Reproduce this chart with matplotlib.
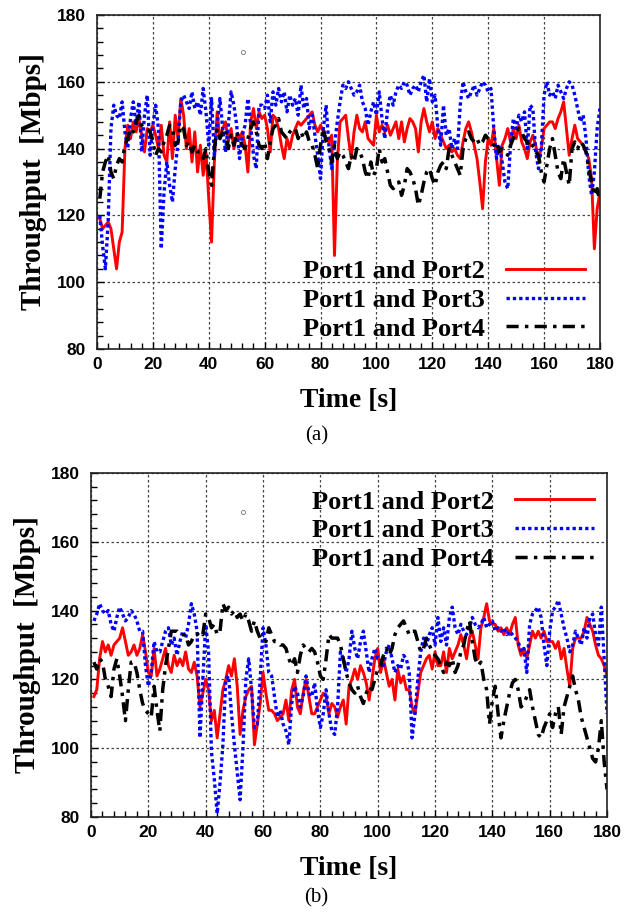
import numpy as np
import matplotlib
matplotlib.use("Agg")
import matplotlib.pyplot as plt
from matplotlib.ticker import MultipleLocator

# sampling instants, 1 s apart
time_s = np.arange(1, 181)

# (a) throughput [Mbps]
a_p12 = [119, 116, 117, 118, 116, 110, 104, 112, 115, 140,
         147, 143, 148, 145, 149, 144, 139, 146, 145, 147,
         144, 140, 147, 138, 136, 148, 137, 150, 143, 155,
         150, 140, 146, 136, 145, 133, 141, 132, 139, 125,
         112, 136, 151, 143, 146, 148, 142, 146, 140, 144,
         143, 145, 141, 133, 148, 152, 146, 151, 149, 150,
         146, 139, 150, 149, 146, 141, 137, 143, 140, 144,
         146, 148, 147, 148, 149, 150, 151, 147, 145, 147,
         145, 143, 142, 144, 108, 136, 148, 149, 150, 143,
         137, 145, 150, 146, 145, 148, 143, 142, 141, 150,
         145, 147, 145, 147, 144, 146, 148, 143, 148, 142,
         146, 149, 148, 146, 139, 148, 152, 148, 145, 148,
         143, 146, 144, 142, 140, 141, 139, 140, 138, 137,
         142, 146, 148, 145, 141, 137, 130, 122, 136, 143,
         141, 146, 137, 129, 141, 143, 146, 142, 146, 143,
         147, 142, 140, 137, 142, 144, 141, 137, 140, 146,
         147, 148, 148, 146, 149, 151, 154, 146, 138, 143,
         147, 143, 142, 141, 139, 137, 131, 110, 122, 127]

a_p13 = [120, 111, 104, 118, 146, 153, 150, 149, 154, 145,
         140, 149, 154, 147, 154, 139, 150, 156, 138, 147,
         153, 146, 110, 127, 136, 129, 124, 134, 142, 154,
         156, 154, 152, 157, 152, 154, 150, 158, 151, 141,
         155, 138, 147, 155, 146, 139, 147, 157, 153, 147,
         137, 144, 147, 155, 147, 138, 134, 153, 153, 152,
         156, 148, 157, 153, 158, 154, 157, 151, 156, 153,
         155, 150, 159, 152, 155, 146, 150, 144, 138, 131,
         146, 153, 141, 134, 141, 148, 154, 159, 158, 160,
         158, 156, 157, 159, 154, 152, 147, 151, 154, 150,
         157, 149, 143, 152, 156, 153, 157, 159, 158, 160,
         159, 156, 158, 159, 157, 160, 162, 154, 161, 154,
         156, 146, 141, 153, 144, 146, 140, 143, 140, 153,
         160, 157, 155, 157, 159, 156, 158, 160, 159, 157,
         158, 146, 137, 141, 136, 130, 128, 141, 149, 146,
         150, 148, 151, 140, 153, 152, 139, 134, 140, 156,
         160, 156, 157, 155, 159, 157, 155, 158, 160, 159,
         156, 152, 148, 150, 143, 132, 126, 133, 146, 152]

a_p14 = [125, 133, 136, 138, 133, 131, 135, 137, 136, 141,
         143, 146, 145, 148, 150, 147, 146, 146, 145, 142,
         138, 140, 139, 142, 144, 147, 146, 141, 142, 147,
         146, 141, 142, 139, 141, 139, 139, 137, 140, 133,
         129, 140, 146, 143, 145, 146, 140, 144, 141, 145,
         143, 141, 140, 143, 146, 148, 145, 141, 140, 142,
         137, 142, 146, 147, 149, 145, 144, 143, 145, 146,
         146, 143, 145, 143, 145, 142, 141, 138, 134, 141,
         146, 142, 140, 136, 141, 137, 139, 138, 136, 134,
         138, 136, 140, 139, 137, 133, 131, 136, 132, 134,
         140, 136, 137, 133, 129, 128, 129, 130, 126, 129,
         134, 133, 131, 128, 123, 126, 130, 133, 134, 131,
         129, 133, 135, 136, 134, 140, 138, 136, 134, 132,
         140, 143, 145, 143, 142, 143, 141, 142, 144, 143,
         142, 141, 142, 139, 140, 139, 138, 141, 143, 145,
         146, 145, 143, 142, 140, 141, 139, 138, 133, 130,
         135, 140, 143, 138, 133, 131, 137, 133, 129, 140,
         142, 140, 142, 141, 139, 134, 130, 126, 128, 124]

# (b) throughput [Mbps]
b_p12 = [115, 117, 126, 131, 128, 130, 127, 130, 131, 132,
         135, 131, 127, 128, 130, 127, 129, 133, 128, 122,
         121, 129, 121, 123, 126, 129, 124, 122, 127, 124,
         126, 124, 128, 123, 122, 125, 121, 112, 116, 120,
         117, 108, 111, 103, 110, 117, 120, 124, 121, 126,
         118, 104, 111, 115, 117, 118, 101, 107, 113, 122,
         116, 111, 111, 110, 108, 109, 110, 114, 108, 117,
         120, 112, 110, 116, 120, 115, 110, 110, 112, 114,
         116, 115, 110, 113, 112, 109, 112, 114, 107, 118,
         120, 123, 120, 124, 122, 119, 114, 120, 126, 129,
         122, 126, 122, 118, 120, 114, 123, 119, 121, 117,
         117, 112, 110, 116, 122, 124, 126, 127, 123, 128,
         124, 124, 128, 122, 129, 126, 128, 130, 133, 130,
         126, 132, 134, 130, 126, 135, 138, 142, 137, 136,
         136, 134, 135, 133, 135, 133, 136, 138, 130, 127,
         129, 126, 130, 134, 132, 134, 132, 134, 131, 131,
         131, 129, 131, 126, 129, 123, 118, 129, 132, 132,
         132, 134, 138, 136, 134, 130, 127, 126, 124, 121]

b_p13 = [137, 139, 142, 140, 139, 140, 136, 134, 138, 141,
         139, 137, 138, 140, 139, 137, 134, 134, 124, 118,
         122, 131, 128, 128, 131, 134, 135, 130, 132, 127,
         131, 134, 132, 136, 142, 139, 134, 103, 120, 136,
         128, 99, 91, 81, 90, 101, 120, 121, 110, 101,
         93, 85, 100, 120, 126, 117, 106, 107, 120, 135,
         130, 122, 121, 115, 109, 111, 107, 105, 101, 113,
         118, 116, 112, 115, 121, 116, 115, 119, 111, 106,
         110, 117, 110, 105, 104, 112, 128, 126, 122, 126,
         134, 129, 126, 131, 134, 128, 122, 126, 129, 126,
         126, 124, 128, 130, 126, 122, 124, 123, 127, 126,
         122, 103, 110, 120, 128, 132, 130, 133, 135, 130,
         138, 131, 135, 130, 138, 141, 135, 133, 136, 134,
         133, 135, 138, 136, 135, 136, 138, 135, 136, 137,
         134, 135, 134, 135, 133, 134, 133, 132, 131, 128,
         129, 122, 136, 139, 140, 141, 138, 130, 124, 134,
         140, 141, 143, 139, 135, 132, 128, 130, 134, 132,
         130, 135, 132, 138, 139, 133, 130, 141, 126, 110]

b_p14 = [125, 123, 126, 125, 120, 118, 115, 123, 126, 121,
         115, 108, 117, 125, 125, 122, 117, 113, 111, 110,
         109, 118, 111, 105, 117, 124, 129, 134, 134, 134,
         133, 133, 133, 130, 131, 133, 133, 134, 133, 139,
         138, 135, 136, 133, 134, 142, 140, 141, 139, 140,
         138, 139, 137, 139, 137, 134, 137, 134, 132, 131,
         131, 135, 133, 131, 131, 130, 130, 129, 126, 124,
         126, 122, 127, 130, 129, 128, 129, 128, 125, 121,
         120, 126, 133, 132, 132, 132, 130, 126, 122, 119,
         117, 116, 118, 115, 113, 116, 118, 117, 120, 123,
         124, 127, 129, 127, 129, 133, 135, 136, 137, 135,
         133, 134, 134, 131, 128, 129, 132, 130, 128, 127,
         126, 124, 122, 125, 124, 126, 122, 124, 128, 130,
         134, 137, 131, 126, 124, 125, 120, 117, 107, 114,
         118, 110, 103, 108, 112, 116, 119, 120, 117, 112,
         113, 115, 117, 112, 108, 104, 103, 106, 108, 110,
         106, 110, 112, 104, 112, 115, 118, 121, 117, 114,
         109, 106, 103, 100, 97, 96, 100, 108, 96, 88]

series_labels = ["Port1 and Port2", "Port1 and Port3", "Port1 and Port4"]
x_ticks = [0, 20, 40, 60, 80, 100, 120, 140, 160, 180]
y_ticks = [80, 100, 120, 140, 160, 180]

# small stray circle visible in both panels
stray_a = ([52.3], [168.9])
stray_b = ([53.0], [168.7])

serif = "Liberation Serif"
sans = "Liberation Sans"


def draw_panel(ax, p12, p13, p14, stray):
    ax.plot(time_s, p12, color="#ff0000", lw=2.1, solid_joinstyle="round")
    ax.plot(time_s, p13, color="#0000ff", lw=2.4, dashes=(1.0, 0.9))
    ax.plot(time_s, p14, color="black", lw=2.5, dashes=(3.5, 1.8, 1.0, 1.8))
    ax.plot(stray[0], stray[1], "o", ms=3, mfc="none", mec="#777777", mew=0.6)

    ax.set_xlim(0, 180)
    ax.set_ylim(80, 180)
    ax.set_xticks(x_ticks)
    ax.set_yticks(y_ticks)
    ax.xaxis.set_minor_locator(MultipleLocator(4))
    ax.yaxis.set_minor_locator(MultipleLocator(4))
    ax.tick_params(which="both", direction="in", top=False, right=False)
    ax.tick_params(which="major", length=5, width=1)
    ax.tick_params(which="minor", length=4, width=1)
    ax.tick_params(axis="x", pad=6)
    ax.tick_params(axis="y", pad=8)
    for lab in ax.get_xticklabels() + ax.get_yticklabels():
        lab.set_fontfamily(sans)
        lab.set_fontweight("bold")
        lab.set_fontsize(12.5)
    ax.grid(True, which="major", color="#444444", lw=0.9, dashes=(2, 2))
    for sp in ax.spines.values():
        sp.set_linewidth(1.2)
        sp.set_color("#222222")
    ax.set_xlabel("Time [s]", fontfamily=serif, fontweight="bold", fontsize=20, labelpad=11)
    ax.set_ylabel("Throughput  [Mbps]", fontfamily=serif, fontweight="bold", fontsize=21, labelpad=7)


fig = plt.figure(figsize=(6.33, 9.15), dpi=100)
ax1 = fig.add_axes([0.1532, 0.6186, 0.7946, 0.3650])
ax2 = fig.add_axes([0.1438, 0.1071, 0.8152, 0.3760])

draw_panel(ax1, a_p12, a_p13, a_p14, stray_a)
draw_panel(ax2, b_p12, b_p13, b_p14, stray_b)

leg_kw = dict(prop={"family": serif, "weight": "bold", "size": 19}, frameon=False,
              markerfirst=False, handlelength=3.0, handletextpad=0.8,
              labelspacing=0.2, borderpad=0, borderaxespad=0)
ax1.legend(ax1.lines[:3], series_labels, loc="lower right",
           bbox_to_anchor=(0.97, 0.025), **leg_kw)
ax2.legend(ax2.lines[:3], series_labels, loc="upper right",
           bbox_to_anchor=(0.975, 0.95), **leg_kw)

fig.text(0.5, 1 - 436 / 915, "(a)", ha="center", va="center", fontfamily=serif, fontsize=15)
fig.text(0.5, 1 - 898 / 915, "(b)", ha="center", va="center", fontfamily=serif, fontsize=15)

fig.savefig("out.png", dpi=100)
